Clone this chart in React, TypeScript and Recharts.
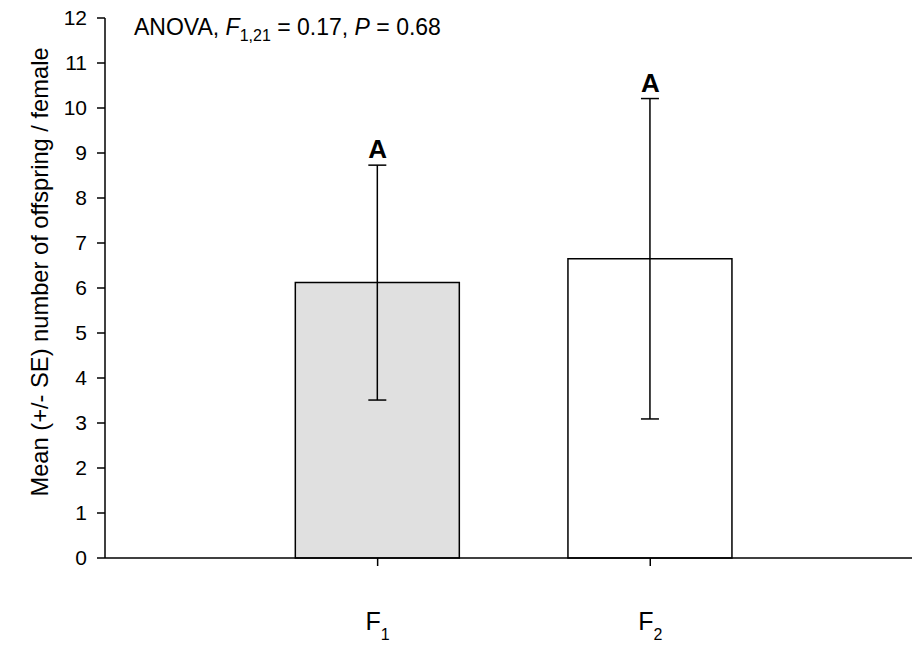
import React from "react";
import {
    BarChart,
    Bar,
    Cell,
    XAxis,
    YAxis,
    ErrorBar,
    ReferenceDot,
    Customized
} from "recharts";

// groups on the x axis (number positions so the axis runs past the bars like the original)
const groups = ["1", "2"];
const positions = [1, 2];
const means = [6.12, 6.65];
const ses = [2.61, 3.56];
const letters = ["A", "A"];
const fills = ["#e0e0e0", "#ffffff"];
const yTicks = [0, 1, 2, 3, 4, 5, 6, 7, 8, 9, 10, 11, 12];

const FONT = "'Liberation Sans', Arial, sans-serif";

const data = groups.map((g, i) => ({
    group: g,
    x: positions[i],
    mean: means[i],
    se: ses[i],
    top: means[i] + ses[i],
}));

const XTick = (props: any) => {
    const {x, y, payload} = props;
    const idx = positions.indexOf(payload.value);
    if (idx < 0) return null;
    return (
        <text x={x} y={y + 62} textAnchor="middle" fontFamily={FONT} fill="#000">
            <tspan fontSize={25}>F</tspan>
            <tspan fontSize={16} dy={10}>{groups[idx]}</tspan>
        </text>
    );
};

const Annotations = () => (
    <g fontFamily={FONT} fill="#000">
        <text x={134} y={35} fontSize={23}>
            <tspan>ANOVA, </tspan>
            <tspan fontStyle="italic">F</tspan>
            <tspan fontSize={16} dy={6}>1,21</tspan>
            <tspan dy={-6}> = 0.17, </tspan>
            <tspan fontStyle="italic">P</tspan>
            <tspan> = 0.68</tspan>
        </text>
        <text x={48} y={272} fontSize={23.7} textAnchor="middle" transform="rotate(-90 48 272)">
            Mean (+/- SE) number of offspring / female
        </text>
    </g>
);

export default function App() {
    return (
        <div style={{position: "absolute", left: 0, top: 0, background: "#fff"}}>
            <BarChart width={912} height={648} data={data}
                      margin={{top: 18, right: 0, left: 0, bottom: 60}}>
                <XAxis dataKey="x" type="number" domain={[0, 2.96]} ticks={positions}
                       tick={<XTick/>} tickLine={{stroke: "#000", strokeWidth: 1.5}} tickSize={8}
                       axisLine={{stroke: "#000", strokeWidth: 1.5}} allowDataOverflow/>
                <YAxis type="number" domain={[0, 12]} ticks={yTicks} width={105} interval={0}
                       tick={{fill: "#000", fontSize: 21, fontFamily: FONT}} tickSize={8} tickMargin={10}
                       tickLine={{stroke: "#000", strokeWidth: 1.5}}
                       axisLine={{stroke: "#000", strokeWidth: 1.5}}/>
                <Bar dataKey="mean" barSize={164} stroke="#000" strokeWidth={1.5} isAnimationActive={false}>
                    {data.map((d, i) => (
                        <Cell key={d.group} fill={fills[i]}/>
                    ))}
                    <ErrorBar dataKey="se" width={9} stroke="#000" strokeWidth={1.5} direction="y"
                              isAnimationActive={false}/>
                </Bar>
                {data.map((d, i) => (
                    <ReferenceDot key={"l" + d.group} x={d.x} y={d.top} r={0} fill="none" stroke="none"
                                  label={{
                                      value: letters[i], position: "top", offset: 7, fill: "#000",
                                      fontSize: 26, fontWeight: "bold", fontFamily: FONT
                                  }}/>
                ))}
                <Customized component={Annotations}/>
            </BarChart>
        </div>
    );
}
